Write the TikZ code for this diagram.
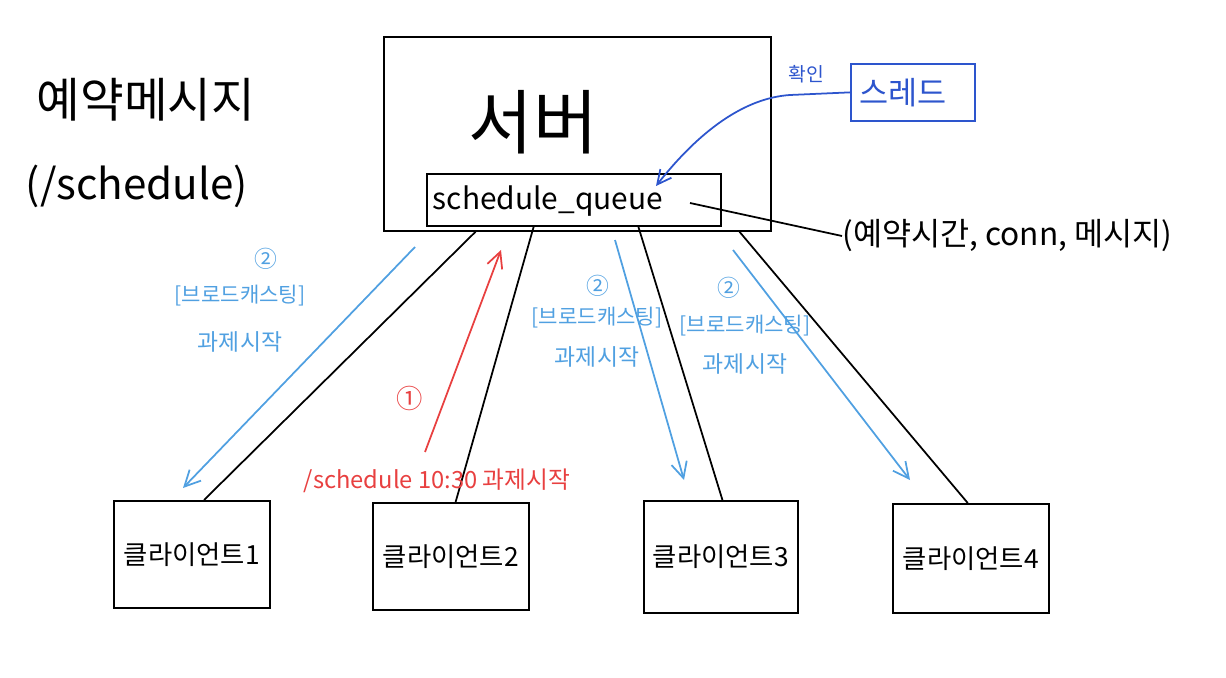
\documentclass[tikz,border=0pt]{standalone}
\usepackage{fontspec}
\usetikzlibrary{arrows.meta,calc}
\newfontfamily\kr{Noto Sans CJK KR}
\definecolor{lblue}{RGB}{80,160,225}
\definecolor{dblue}{RGB}{45,85,205}
\definecolor{hred}{RGB}{232,64,64}
\tikzset{
  box/.style={draw=black,line width=1pt,inner sep=0pt},
  cbox/.style={box,minimum width=156\unitpx,minimum height=107\unitpx,font=\kr\fontsize{15}{18}\selectfont},
  txt/.style={inner sep=0pt,font=\kr},
  blbl/.style={txt,text=lblue},
  bline/.style={draw=lblue,line width=1pt,-{Straight Barb[length=9pt,width=9pt]}},
  kline/.style={draw=black,line width=1pt},
}
\newlength{\unitpx}\setlength{\unitpx}{0.02cm}
\begin{document}
\begin{tikzpicture}[x=0.02cm,y=-0.02cm]
\useasboundingbox (0,0) rectangle (1226,678);
% server
\node[box,minimum width=387\unitpx,minimum height=194\unitpx,anchor=north west] (srv) at (383,36) {};
\node[txt,font=\kr\fontsize{40}{46}\selectfont] (srvt) at (533,122) {서버};
\node[box,minimum width=294\unitpx,minimum height=52\unitpx,anchor=north west] (q) at (426,173) {};
\node[txt,font=\kr\fontsize{17}{20}\selectfont] (qt) at (548,201) {schedule\_queue};
% thread
\node[draw=dblue,line width=1pt,minimum width=124\unitpx,minimum height=57\unitpx,anchor=north west,inner sep=0pt] (thr) at (850,63) {};
\node[txt,text=dblue,font=\kr\fontsize{18}{21}\selectfont] (thrt) at (903,93) {스레드};
\node[txt,text=dblue,font=\kr\fontsize{11}{13}\selectfont] (chk) at (806,74) {확인};
\coordinate (qin) at (656,186);
\draw[draw=dblue,line width=1pt,-{Straight Barb[length=8pt,width=8pt]}] (thr.west) -- (790,95) .. controls (745,98) and (700,130) .. (qin);
% title
\node[txt,font=\kr\fontsize{27}{32}\selectfont] (title) at (146,100) {예약메시지};
\node[txt,font=\kr\fontsize{24}{28}\selectfont] (title2) at (137,186) {(/schedule)};
% tuple
\coordinate (qend) at (690,203);
\node[txt,font=\kr\fontsize{18}{22}\selectfont,anchor=west] (tup) at (842,236) {(예약시간, conn, 메시지)};
\draw[kline] (qend) -- (tup.west);
% clients
\node[cbox,anchor=north west] (c1) at (113,500) {클라이언트1};
\node[cbox,anchor=north west] (c2) at (372,502) {클라이언트2};
\node[cbox,anchor=north west,minimum width=154\unitpx,minimum height=112\unitpx] (c3) at (643,500) {클라이언트3};
\node[cbox,anchor=north west,minimum height=109\unitpx] (c4) at (892,503) {클라이언트4};
% black lines
\draw[kline] ($(srv.south west)!0.238!(srv.south east)$) -- ($(c1.north west)!0.577!(c1.north east)$);
\draw[kline] ($(q.south west)!0.364!(q.south east)$) -- ($(c2.north west)!0.53!(c2.north east)$);
\draw[kline] ($(q.south west)!0.718!(q.south east)$) -- ($(c3.north west)!0.51!(c3.north east)$);
\draw[kline] ($(srv.south west)!0.917!(srv.south east)$) -- ($(c4.north west)!0.48!(c4.north east)$);
% blue arrows
\coordinate (b1s) at (415,247); \coordinate (b1e) at (183,488);
\coordinate (b2s) at (615,240); \coordinate (b2e) at (684,480);
\coordinate (b3s) at (733,250); \coordinate (b3e) at (910,480);
\draw[bline] (b1s) -- (b1e);
\draw[bline] (b2s) -- (b2e);
\draw[bline] (b3s) -- (b3e);
% red arrow
\coordinate (rs) at (425,452); \coordinate (re) at (501,250);
\draw[draw=hred,line width=1pt,-{Straight Barb[length=9pt,width=9pt]}] (rs) -- (re);
\node[txt,text=hred,font=\kr\fontsize{15}{17}\selectfont] (r1) at (410,398) {①};
\node[txt,text=hred,font=\kr\fontsize{13.5}{15}\selectfont] (rtxt) at (437,481) {/schedule 10:30 과제시작};
% blue labels
\node[blbl,font=\kr\fontsize{13}{15}\selectfont] (n1) at (266,259) {②};
\node[blbl,font=\kr\fontsize{12}{14}\selectfont] (k1) at (240,296) {[브로드캐스팅]};
\node[blbl,font=\kr\fontsize{13}{15}\selectfont] (g1) at (240,342) {과제시작};
\node[blbl,font=\kr\fontsize{13}{15}\selectfont] (n2) at (598,286) {②};
\node[blbl,font=\kr\fontsize{12}{14}\selectfont] (k2) at (597,318) {[브로드캐스팅]};
\node[blbl,font=\kr\fontsize{13}{15}\selectfont] (g2) at (597,357) {과제시작};
\node[blbl,font=\kr\fontsize{13}{15}\selectfont] (n3) at (729,288) {②};
\node[blbl,font=\kr\fontsize{12}{14}\selectfont] (k3) at (745,326) {[브로드캐스팅]};
\node[blbl,font=\kr\fontsize{13}{15}\selectfont] (g3) at (745,364) {과제시작};
\end{tikzpicture}
\end{document}
